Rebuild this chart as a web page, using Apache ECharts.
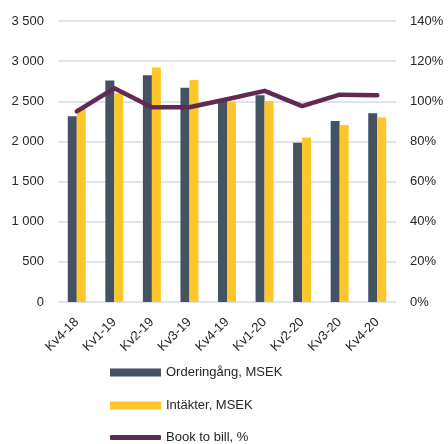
<!DOCTYPE html>
<html><head><meta charset="utf-8">
<script src="https://cdn.jsdelivr.net/npm/echarts@6/dist/echarts.min.js"></script>
<style>html,body{margin:0;padding:0;background:#fff}#c{width:448px;height:444px}</style>
</head><body><div id="c"></div>
<script>
var categories = ['Kv4-18','Kv1-19','Kv2-19','Kv3-19','Kv4-19','Kv1-20','Kv2-20','Kv3-20','Kv4-20'];
var orderIntake = [2315, 2760, 2825, 2670, 2530, 2575, 1985, 2255, 2350];
var revenue = [2420, 2600, 2920, 2765, 2495, 2505, 2050, 2205, 2300];
var bookToBill = [95, 106.5, 97, 97, 101, 105.2, 97.6, 103.3, 103];
var names = ['Orderingång, MSEK', 'Intäkter, MSEK', 'Book to bill, %'];
var font = 'Liberation Sans, Arial, sans-serif';
var legendText = {fontSize: 13, color: '#262626', fontFamily: font};
function leg(name, top, h, icon) {
  return {orient: 'vertical', left: 105, top: top, itemWidth: 51, itemHeight: h,
    textStyle: legendText, icon: icon, data: [{name: name, icon: icon}]};
}
var chart = echarts.init(document.getElementById('c'));
chart.setOption({
  animation: false,
  textStyle: {fontFamily: font},
  grid: {left: 58, right: 52, top: 21, bottom: 142},
  legend: [
    leg(names[0], 361, 8, 'rect'),
    leg(names[1], 394, 8, 'rect'),
    leg(names[2], 426, 5, 'roundRect')
  ],
  xAxis: {
    type: 'category', data: categories,
    axisLine: {show: false}, axisTick: {show: false},
    axisLabel: {rotate: 45, fontSize: 13, color: '#262626', margin: 18, fontFamily: font}
  },
  yAxis: [{
    type: 'value', min: 0, max: 3500, interval: 500,
    axisLabel: {fontSize: 13, color: '#262626', margin: 14,
      formatter: function(v){ return String(v).replace(/\B(?=(\d{3})+(?!\d))/g, ' '); }},
    splitLine: {lineStyle: {color: '#dfe4ea', width: 2}},
    axisLine: {show: false}, axisTick: {show: false}
  }, {
    type: 'value', min: 0, max: 140, interval: 20, position: 'right',
    axisLabel: {fontSize: 13, color: '#262626', margin: 14, formatter: '{value}%'},
    splitLine: {show: false}, axisLine: {show: false}, axisTick: {show: false}
  }],
  series: [{
    name: names[0], type: 'bar', data: orderIntake, barWidth: 9, barGap: '0%',
    itemStyle: {color: '#435361'}
  }, {
    name: names[1], type: 'bar', data: revenue, barWidth: 9,
    itemStyle: {color: '#ffc629'}
  }, {
    name: names[2], type: 'line', yAxisIndex: 1, data: bookToBill,
    symbol: 'none', showSymbol: false,
    lineStyle: {color: '#612a50', width: 4.5, cap: 'round', join: 'round'},
    itemStyle: {color: '#612a50'}
  }]
});
</script></body></html>
